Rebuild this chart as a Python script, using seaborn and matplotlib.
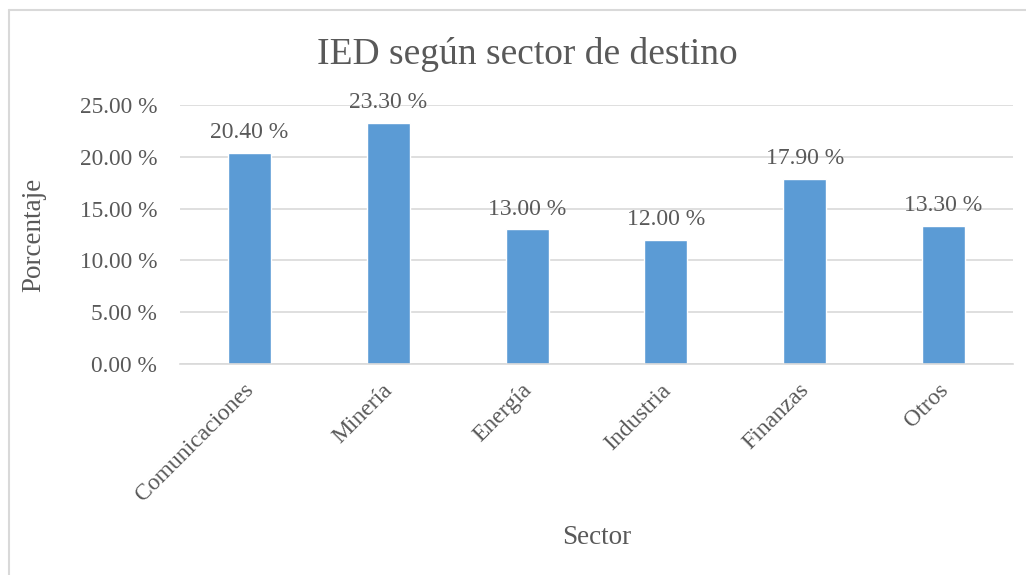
import matplotlib
matplotlib.use('Agg')
import matplotlib.pyplot as plt
import matplotlib.transforms as mtransforms
from matplotlib.lines import Line2D
import seaborn as sns
import pandas as pd

# datos
sectores = ['Comunicaciones', 'Minería', 'Energía', 'Industria', 'Finanzas', 'Otros']
porcentajes = [20.40, 23.30, 13.00, 12.00, 17.90, 13.30]
ticks_y = [0, 5, 10, 15, 20, 25]

df = pd.DataFrame({'Sector': sectores, 'Porcentaje': porcentajes})

sns.set_theme(style='white')
plt.rcParams['font.family'] = ['Liberation Serif', 'DejaVu Serif']

gris = '#595959'
fig = plt.figure(figsize=(10.26, 5.75), dpi=100)
ax = fig.add_axes([180 / 1026, 1 - 364 / 575, (1013 - 180) / 1026, (364 - 105) / 575])

sns.barplot(data=df, x='Sector', y='Porcentaje', color='#5B9BD5', width=0.31,
            saturation=1, ax=ax)

ax.set_ylim(0, 25)
ax.set_yticks(ticks_y)
ax.set_yticklabels([f'{t:.2f} %' for t in ticks_y], fontsize=16.8, color=gris)
ax.yaxis.grid(True, color='#D9D9D9', linewidth=1.2)
ax.set_axisbelow(True)
for s in ['top', 'right', 'left']:
    ax.spines[s].set_visible(False)
ax.spines['bottom'].set_color('#D9D9D9')
ax.spines['bottom'].set_linewidth(1.2)
ax.tick_params(axis='both', length=0)
ax.tick_params(axis='y', pad=16.5)

# etiquetas de categorias rotadas
ax.set_xticks(range(len(sectores)))
ax.set_xticklabels(sectores, rotation=45, ha='right', rotation_mode='anchor',
                   fontsize=17, color=gris)
ax.tick_params(axis='x', pad=12)
desplaza = mtransforms.ScaledTranslation(-6 / 100, 1 / 100, fig.dpi_scale_trans)
for lbl in ax.get_xticklabels():
    lbl.set_transform(lbl.get_transform() + desplaza)

# etiquetas de datos
ax.bar_label(ax.containers[0], labels=[f'{v:.2f} %' for v in porcentajes],
             padding=7, fontsize=17, color=gris)

ax.set_xlabel('Sector', fontsize=19.5, color=gris)
ax.xaxis.set_label_coords(0.5, -0.62)
ax.set_ylabel('Porcentaje', fontsize=19.5, color=gris)
ax.yaxis.set_label_coords(-0.16, 0.5)

fig.text(527 / 1026, 1 - 55 / 575, 'IED según sector de destino', ha='center',
         va='center', fontsize=27, color=gris)

# marco del grafico
fig.add_artist(Line2D([8.5 / 1026, 8.5 / 1026], [0, 1 - 9.5 / 575], color='#D9D9D9', lw=1.5))
fig.add_artist(Line2D([8.5 / 1026, 1], [1 - 9.5 / 575, 1 - 9.5 / 575], color='#D9D9D9', lw=1.5))

fig.savefig('out.png', dpi=100)
